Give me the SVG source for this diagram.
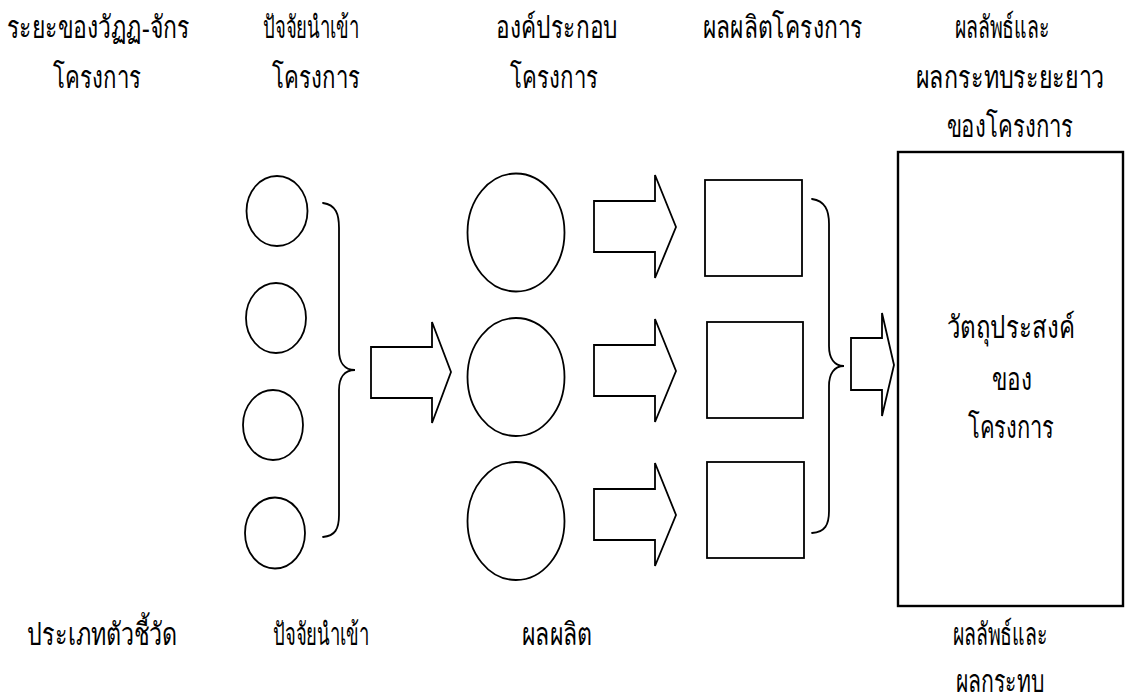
<svg xmlns="http://www.w3.org/2000/svg" width="1126" height="698" viewBox="0 0 1126 698">
  <style>
    .shape { fill: #ffffff; stroke: #000000; stroke-width: 1.8; stroke-linejoin: miter; }
    .brace { fill: none; stroke: #000000; stroke-width: 1.8; stroke-linecap: round; }
    .frame { fill: #ffffff; stroke: #000000; stroke-width: 2.4; }
    .label { font-family: "Liberation Serif", serif; font-size: 31px; fill: #000000; text-anchor: middle; }
  </style>
  <rect x="0" y="0" width="1126" height="698" fill="#ffffff"/>

  <!-- column headings -->
  <g id="headings">
    <text class="label" x="98" y="38" textLength="183" lengthAdjust="spacingAndGlyphs">ระยะของวัฏฏ-จักร</text>
    <text class="label" x="97" y="88" textLength="88" lengthAdjust="spacingAndGlyphs">โครงการ</text>
    <text class="label" x="311" y="38" textLength="96" lengthAdjust="spacingAndGlyphs">ปัจจัยนำเข้า</text>
    <text class="label" x="316" y="88" textLength="88" lengthAdjust="spacingAndGlyphs">โครงการ</text>
    <text class="label" x="557" y="38" textLength="122" lengthAdjust="spacingAndGlyphs">องค์ประกอบ</text>
    <text class="label" x="554" y="88" textLength="88" lengthAdjust="spacingAndGlyphs">โครงการ</text>
    <text class="label" x="783" y="38" textLength="160" lengthAdjust="spacingAndGlyphs">ผลผลิตโครงการ</text>
    <text class="label" x="1002" y="38" textLength="95" lengthAdjust="spacingAndGlyphs">ผลลัพธ์และ</text>
    <text class="label" transform="translate(1010,88) scale(0.75,1)" x="0" y="0">ผลกระทบระยะยาว</text>
    <text class="label" x="1010" y="137" textLength="127" lengthAdjust="spacingAndGlyphs">ของโครงการ</text>
  </g>

  <!-- indicator types -->
  <g id="footers">
    <text class="label" x="102" y="645" textLength="150" lengthAdjust="spacingAndGlyphs">ประเภทตัวชี้วัด</text>
    <text class="label" x="321" y="645" textLength="96" lengthAdjust="spacingAndGlyphs">ปัจจัยนำเข้า</text>
    <text class="label" x="557" y="645" textLength="70" lengthAdjust="spacingAndGlyphs">ผลผลิต</text>
    <text class="label" x="1000" y="645" textLength="95" lengthAdjust="spacingAndGlyphs">ผลลัพธ์และ</text>
    <text class="label" x="1000" y="692" textLength="89" lengthAdjust="spacingAndGlyphs">ผลกระทบ</text>
  </g>

  <!-- input nodes -->
  <g id="input-1"><ellipse class="shape" cx="277" cy="211" rx="30.5" ry="35"/></g>
  <g id="input-2"><ellipse class="shape" cx="276" cy="318" rx="30" ry="35"/></g>
  <g id="input-3"><ellipse class="shape" cx="273" cy="425" rx="30" ry="35"/></g>
  <g id="input-4"><ellipse class="shape" cx="275" cy="533" rx="30" ry="35.5"/></g>

  <!-- component nodes -->
  <g id="component-1"><ellipse class="shape" cx="516" cy="232.5" rx="48.5" ry="59"/></g>
  <g id="component-2"><ellipse class="shape" cx="516" cy="377" rx="48.5" ry="59"/></g>
  <g id="component-3"><ellipse class="shape" cx="516" cy="521" rx="48.5" ry="59"/></g>

  <!-- output nodes -->
  <g id="output-1"><rect class="shape" x="705" y="180" width="97" height="96"/></g>
  <g id="output-2"><rect class="shape" x="707" y="322" width="96" height="96"/></g>
  <g id="output-3"><rect class="shape" x="707" y="462" width="97" height="96"/></g>

  <!-- objective node -->
  <g id="objective">
    <rect class="frame" x="898" y="152" width="225" height="454"/>
    <text class="label" x="1011" y="338" textLength="128" lengthAdjust="spacingAndGlyphs">วัตถุประสงค์</text>
    <text class="label" x="1012" y="390" textLength="40" lengthAdjust="spacingAndGlyphs">ของ</text>
    <text class="label" x="1011" y="438" textLength="87" lengthAdjust="spacingAndGlyphs">โครงการ</text>
  </g>

  <!-- braces and block arrows -->
  <g id="connectors">
    <path class="brace" d="M323,203 C336,205 339,214 339,228 L339,350 C339,362 344,370 355,370 C344,370 339,378 339,390 L339,515 C339,529 335,536 323,537"/>
    <polygon class="shape" points="371,347 432,347 432,322 451,372 432,423 432,398 371,398"/>
    <polygon class="shape" points="594,201 655,201 655,175 676,227 655,278 655,252 594,252"/>
    <polygon class="shape" points="594,345 655,345 655,319 676,371 655,422 655,396 594,396"/>
    <polygon class="shape" points="594,489 655,489 655,463 676,515 655,566 655,540 594,540"/>
    <path class="brace" d="M812,199 C825,201 829,210 829,224 L829,346 C829,358 834,366 844,366 C834,366 829,374 829,386 L829,511 C829,525 825,532 812,533"/>
    <polygon class="shape" points="851,338 882,338 882,313 894,365 882,416 882,390 851,390"/>
  </g>
</svg>
